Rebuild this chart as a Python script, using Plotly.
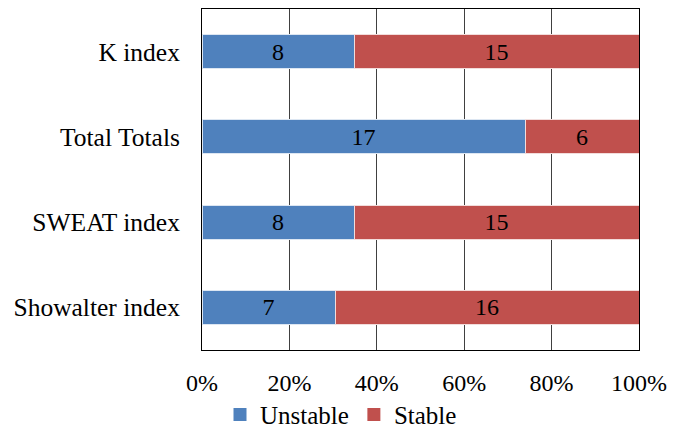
import plotly.graph_objects as go

# Stability index outcomes (counts of cases)
indices = ["K index", "Total Totals", "SWEAT index", "Showalter index"]
unstable = [8, 17, 8, 7]
stable = [15, 6, 15, 16]
tick_vals = [0, 20, 40, 60, 80, 100]
tick_text = ["0%", "20%", "40%", "60%", "80%", "100%"]

FONT = "Times New Roman"
BLUE = "#4F81BD"
RED = "#C0504D"

fig = go.Figure()
fig.add_trace(go.Bar(
    y=indices, x=unstable, orientation="h", name="Unstable", showlegend=False,
    marker=dict(color=BLUE, line=dict(color="#DCE6F2", width=1)),
    text=unstable, textposition="inside", insidetextanchor="middle",
    textfont=dict(color="black", size=24, family=FONT),
))
fig.add_trace(go.Bar(
    y=indices, x=stable, orientation="h", name="Stable", showlegend=False,
    marker=dict(color=RED, line=dict(color="#F2DCDB", width=1)),
    text=stable, textposition="inside", insidetextanchor="middle",
    textfont=dict(color="black", size=24, family=FONT),
))
# Square legend keys
for name, color in [("Unstable", BLUE), ("Stable", RED)]:
    fig.add_trace(go.Scatter(
        x=[None], y=[None], mode="markers", name=name,
        marker=dict(symbol="square", size=13, color=color),
    ))

fig.update_layout(
    width=682, height=429,
    barmode="stack", barnorm="percent", bargap=0.6,
    paper_bgcolor="white", plot_bgcolor="white",
    margin=dict(l=202, r=43, t=9, b=79, autoexpand=False),
    font=dict(family=FONT, size=24, color="black"),
    uniformtext=dict(mode="show", minsize=10),
    legend=dict(
        orientation="h", xref="container", yref="paper",
        x=0.5, xanchor="center", y=-0.19, yanchor="middle",
        font=dict(size=25, family=FONT), itemwidth=30,
        traceorder="normal", bgcolor="rgba(0,0,0,0)",
    ),
    showlegend=True,
)
fig.update_xaxes(
    range=[0, 100], tickvals=tick_vals, ticktext=tick_text,
    showgrid=True, gridcolor="#404040", gridwidth=1,
    showline=True, linecolor="black", linewidth=1, mirror=True,
    ticks="", ticklabelstandoff=11, zeroline=False,
    tickfont=dict(size=24, family=FONT),
)
fig.update_yaxes(
    categoryorder="array", categoryarray=indices, autorange="reversed",
    showline=True, linecolor="black", linewidth=1, mirror=True,
    ticks="", ticklabelstandoff=16, showgrid=False,
    tickfont=dict(size=25.5, family=FONT),
)

fig.write_html("out.html")
